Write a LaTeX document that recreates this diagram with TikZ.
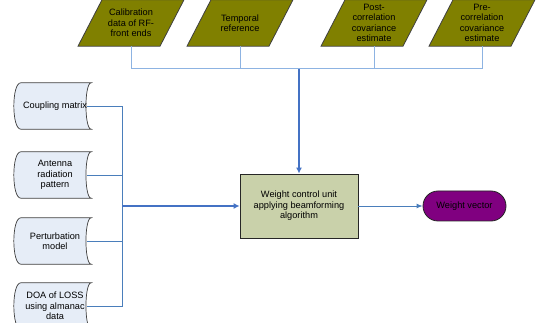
\documentclass[tikz,border=0pt]{standalone}
\usepackage{fontspec}
\setmainfont{Liberation Sans}
\usetikzlibrary{arrows.meta,backgrounds}
\definecolor{olivefill}{HTML}{808000}
\definecolor{storefill}{HTML}{E6EDF7}
\definecolor{wcfill}{HTML}{C9D1AA}
\definecolor{wvfill}{HTML}{800080}
\definecolor{edgegray}{HTML}{404040}
\definecolor{buslight}{HTML}{8DB3E2}
\definecolor{busmid}{HTML}{4A7EBB}
\definecolor{busdark}{HTML}{4472C4}
\tikzset{
  txt/.style={font=\fontsize{9.2}{10.4}\selectfont, align=center, inner sep=0pt},
  pbox/.style={txt, minimum width=60pt, minimum height=46pt},
  sbox/.style={txt, minimum width=64pt, minimum height=46pt},
  pshape/.style={draw=edgegray, line width=0.8pt, fill=olivefill},
  sshape/.style={draw=edgegray, line width=0.7pt, fill=storefill},
  wcbox/.style={txt, draw=black!85, line width=0.8pt, fill=wcfill, minimum width=118pt, minimum height=64pt},
  wvbox/.style={txt, draw=black!85, line width=0.8pt, fill=wvfill, minimum width=83pt, minimum height=30pt, rounded corners=15pt},
  toplink/.style={draw=buslight, line width=1pt},
  leftlink/.style={draw=busmid, line width=0.9pt},
  mainarrow/.style={draw=busdark, line width=1.6pt, -{Latex[length=6pt,width=6pt]}},
  thinarrow/.style={draw=busmid, line width=0.9pt, -{Latex[length=6pt,width=5pt]}}
}
\newcommand\myparashape[1]{%
  \path[pshape] ([xshift=-53pt]#1.south) -- ([xshift=29pt]#1.south) -- ([xshift=53pt]#1.north) -- ([xshift=-29pt]#1.north) -- cycle;}
\newcommand\mystoreshape[1]{%
  \path[sshape] ([xshift=-2pt]#1.north west) -- ([xshift=4pt]#1.north east)
    .. controls ([xshift=-3pt]#1.north east) and ([xshift=-3pt]#1.south east) .. ([xshift=4pt]#1.south east)
    -- ([xshift=-2pt]#1.south west)
    .. controls ([xshift=-11.3pt]#1.south west) and ([xshift=-11.3pt]#1.north west) .. ([xshift=-2pt]#1.north west) -- cycle;}
\begin{document}
\begin{tikzpicture}[x=1pt,y=-1pt]
\clip (0,0) rectangle (541,323);
% top inputs
\node[pbox] (p1) at (131,23) {Calibration\\data of RF-\\front ends};
\node[pbox] (p2) at (240,23) {Temporal\\reference};
\node[pbox] (p3) at (374,23) {Post-\\correlation\\covariance\\estimate};
\node[pbox] (p4) at (482,23) {Pre-\\correlation\\covariance\\estimate};
% left inputs
\node[sbox] (s1) at (55,106) {Coupling matrix};
\node[sbox] (s2) at (55,175) {Antenna\\radiation\\pattern};
\node[sbox] (s3) at (55,241) {Perturbation\\model};
\node[sbox] (s4) at (55,306) {DOA of LOSS\\using almanac\\data};
% central and output
\node[wcbox] (wc) at (299,206) {Weight control unit\\applying beamforming\\algorithm};
\node[wvbox] (wv) at (464.5,206) {Weight vector};
\begin{scope}[on background layer]
  \fill[white] (0,0) rectangle (541,323);
  \myparashape{p1}\myparashape{p2}\myparashape{p3}\myparashape{p4}
  \mystoreshape{s1}\mystoreshape{s2}\mystoreshape{s3}\mystoreshape{s4}
\end{scope}
\coordinate (tbus) at (299,69);
\coordinate (lbus) at (122,206);
\draw[toplink] (p1.south) |- (tbus);
\draw[toplink] (p2.south) |- (tbus);
\draw[toplink] (p3.south) |- (tbus);
\draw[toplink] (p4.south) |- (tbus);
\draw[leftlink] (s1.east) -| (lbus);
\draw[leftlink] (s2.east) -| (lbus);
\draw[leftlink] (s3.east) -| (lbus);
\draw[leftlink] (s4.east) -| (lbus);
\draw[mainarrow] (tbus) -- (wc.north);
\draw[mainarrow] (lbus) -- (wc.west);
\draw[thinarrow] (wc.east) -- (wv.west);
\end{tikzpicture}
\end{document}
